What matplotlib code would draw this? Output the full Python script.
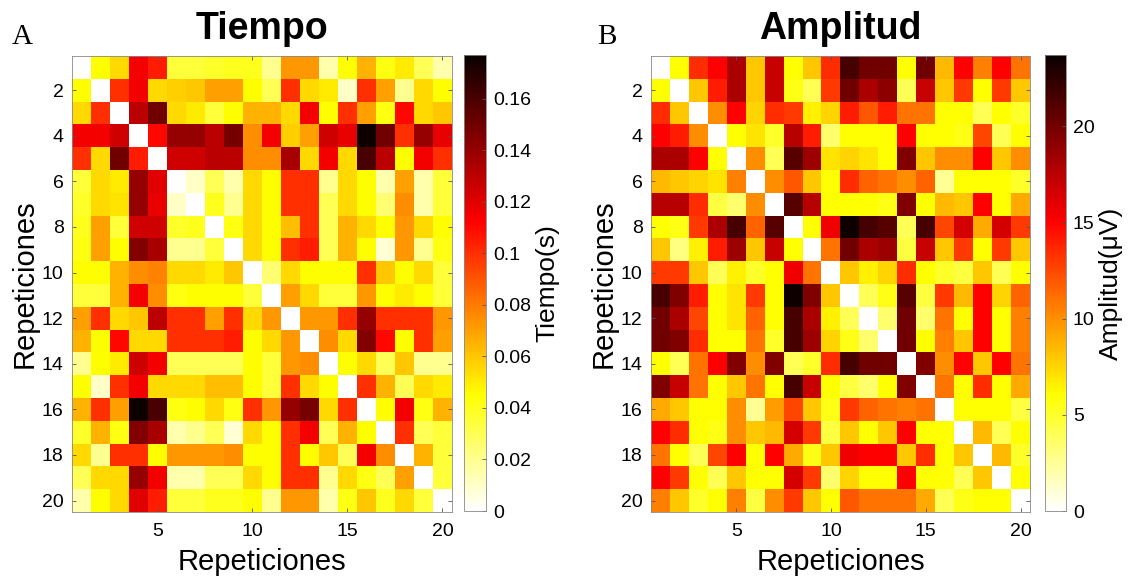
import numpy as np
import matplotlib
matplotlib.use("Agg")
import matplotlib.pyplot as plt

plt.rcParams['font.family'] = ['Liberation Sans', 'DejaVu Sans']

tiempo_ms = np.array([
    [0, 45, 55, 115, 105, 35, 35, 38, 40, 40, 20, 72, 72, 15, 45, 65, 42, 50, 30, 15],
    [45, 0, 100, 115, 55, 58, 60, 70, 70, 45, 30, 100, 55, 50, 10, 100, 70, 20, 55, 45],
    [55, 100, 0, 130, 150, 55, 50, 35, 45, 65, 65, 55, 115, 45, 100, 70, 42, 110, 55, 60],
    [115, 115, 125, 0, 110, 140, 140, 130, 148, 75, 115, 58, 70, 125, 118, 175, 150, 100, 140, 118],
    [100, 55, 150, 105, 0, 125, 125, 130, 130, 75, 75, 135, 55, 115, 55, 160, 130, 45, 115, 100],
    [35, 55, 50, 140, 120, 0, 10, 30, 15, 55, 45, 100, 100, 20, 55, 45, 15, 70, 15, 35],
    [38, 55, 52, 140, 118, 10, 0, 40, 20, 55, 45, 100, 100, 30, 55, 45, 25, 75, 15, 35],
    [40, 70, 35, 125, 125, 38, 40, 0, 42, 55, 45, 62, 100, 30, 65, 55, 45, 72, 55, 45],
    [42, 70, 45, 145, 135, 20, 20, 35, 0, 55, 45, 100, 105, 30, 65, 45, 8, 72, 20, 42],
    [45, 45, 65, 75, 78, 55, 55, 50, 60, 0, 25, 55, 45, 45, 45, 100, 60, 45, 55, 35],
    [35, 35, 65, 115, 75, 42, 45, 45, 45, 35, 0, 70, 55, 35, 35, 72, 45, 50, 45, 35],
    [70, 100, 55, 60, 130, 100, 100, 70, 100, 55, 72, 0, 72, 72, 100, 140, 100, 100, 100, 72],
    [65, 45, 110, 55, 55, 100, 100, 100, 105, 45, 55, 72, 0, 75, 55, 145, 110, 45, 100, 70],
    [20, 45, 50, 125, 115, 30, 30, 30, 30, 45, 35, 72, 75, 0, 45, 55, 30, 60, 20, 20],
    [45, 10, 100, 115, 55, 55, 55, 62, 62, 45, 35, 100, 55, 45, 0, 100, 65, 30, 55, 50],
    [65, 100, 70, 175, 160, 42, 45, 55, 42, 100, 72, 140, 148, 55, 100, 0, 45, 115, 42, 65],
    [38, 65, 42, 145, 135, 15, 20, 30, 8, 55, 45, 100, 115, 30, 65, 45, 0, 100, 30, 35],
    [55, 20, 100, 100, 45, 72, 72, 72, 75, 45, 45, 100, 45, 60, 30, 115, 75, 0, 65, 35],
    [30, 55, 55, 140, 115, 15, 15, 30, 30, 55, 45, 100, 100, 20, 55, 42, 30, 70, 0, 35],
    [15, 45, 55, 120, 105, 35, 35, 40, 40, 45, 20, 72, 72, 15, 42, 60, 40, 55, 35, 0],
])

# diferencia de amplitud entre repeticiones, en uV
amplitud_uv = np.array([
    [0, 6, 13.5, 15, 18, 8, 17, 6, 8, 13.5, 21.5, 20, 20, 6, 20, 8.5, 15, 10.5, 15, 11],
    [6, 0, 8, 14, 18, 8, 17, 5.5, 4, 13, 20, 18, 19, 4, 17, 8, 13, 6, 13, 8],
    [13.5, 8, 0, 10, 15, 7.5, 13.5, 13, 6.5, 7.5, 14, 12, 14, 11, 11, 6, 6, 4, 6, 5],
    [15, 14, 10, 0, 6, 7, 5, 17.5, 14, 3.5, 6, 6, 6, 15, 6, 6, 5.5, 12.5, 4, 6],
    [18, 18, 15, 6, 0, 10, 4, 21, 18.5, 7, 7.5, 7, 6, 19.5, 8, 10, 10, 15, 8, 10],
    [8.5, 8, 7.5, 7, 10.5, 0, 10, 12, 8, 6, 13.5, 11.5, 11, 10, 11.5, 2.5, 6, 6, 6, 5],
    [17.5, 17.5, 13.5, 4.5, 3.5, 10, 0, 21, 17.5, 6, 6, 6, 5.5, 19.5, 6, 8.5, 8, 15, 6, 9],
    [6, 5.5, 13, 18, 21.5, 11.5, 21, 0, 6, 15.5, 23.5, 21.5, 21, 4, 21.5, 12.5, 16.5, 9, 16.5, 13],
    [8, 3, 6.5, 14, 18.5, 8, 17, 6, 0, 11, 20, 18, 18.5, 4.5, 17, 8, 13, 6, 13, 8],
    [13, 13, 8, 4, 6.5, 5, 6, 15.5, 11, 0, 8, 6.5, 7.5, 13.5, 6, 5, 4.5, 8, 4, 6],
    [21.5, 19.5, 14, 6, 7, 13, 6, 23.5, 19.5, 8, 0, 4, 5.5, 21, 4.5, 13, 8.5, 15, 7.5, 11.5],
    [20, 18, 12.5, 6, 7, 11.5, 6, 21.5, 18, 6.5, 4, 0, 3.5, 20, 3.5, 11, 6, 15, 6, 10.5],
    [20, 19.5, 13.5, 6, 6, 11, 5, 21.5, 18.5, 7.5, 5.5, 3.5, 0, 20, 6, 10.5, 8, 15, 6, 10.5],
    [6, 4, 11, 15, 19.5, 10, 19.5, 4, 5, 13.5, 21.5, 20, 20, 0, 19.5, 10, 15, 8, 15, 11],
    [19.5, 17, 11, 6, 8, 11, 6, 21.5, 17, 6, 4.5, 3.5, 6, 19.5, 0, 11, 6, 13.5, 6, 9],
    [9, 8, 6, 6, 10, 2.5, 9.5, 12.5, 8, 5.5, 13, 11.5, 11, 10.5, 11, 0, 6, 6, 6, 4.5],
    [15, 13.5, 6, 5.5, 10, 8, 8.5, 16.5, 13, 4.5, 8, 6, 8, 15, 6, 6, 0, 8.5, 4, 6],
    [11, 6, 4, 12.5, 15, 6, 15, 9, 5.5, 8, 15.5, 15, 15, 8, 13.5, 6, 8, 0, 8.5, 5],
    [15, 13, 6, 4, 8, 6, 6, 16.5, 13, 3.5, 7.5, 6, 6, 15, 6, 6, 4, 8, 0, 6],
    [10.5, 8, 5, 6, 10.5, 4.5, 10, 13, 8, 6, 12, 11, 11, 11, 9, 4, 5.5, 6, 6, 0],
])

tiempo = tiempo_ms / 1000.0
n = tiempo.shape[0]

fig = plt.figure(figsize=(11.31, 5.8), dpi=100)

# posiciones en fracciones de la figura
ax1 = fig.add_axes([72/1131, 68/580, 380/1131, 456/580])
cax1 = fig.add_axes([464/1131, 69/580, 22/1131, 456/580])
ax2 = fig.add_axes([651/1131, 68/580, 379/1131, 456/580])
cax2 = fig.add_axes([1045/1131, 69/580, 21/1131, 456/580])

paneles = [
    (ax1, cax1, tiempo, 0.177, "Tiempo", "Tiempo(s)", "A", 12, np.arange(0, 0.17, 0.02)),
    (ax2, cax2, amplitud_uv, 23.7, "Amplitud", "Amplitud(\u03bcV)", "B", 597, np.arange(0, 21, 5)),
]

for ax, cax, datos, vmax, titulo, cblabel, letra, xletra, cbticks in paneles:
    im = ax.imshow(datos, cmap='hot_r', vmin=0, vmax=vmax, aspect='auto',
                   interpolation='nearest', extent=[0.5, n + 0.5, n + 0.5, 0.5])
    ax.set_xticks([5, 10, 15, 20])
    ax.set_yticks(np.arange(2, 21, 2))
    ax.tick_params(direction='in', length=3, width=0.6, color='#555555',
                   labelsize=14, top=True, right=True)
    ax.tick_params(axis='x', pad=8)
    ax.tick_params(axis='y', pad=6)
    for s in ax.spines.values():
        s.set_color('#888888')
        s.set_linewidth(0.6)
    ax.set_xlabel("Repeticiones", fontsize=21, labelpad=6)
    ax.set_ylabel("Repeticiones", fontsize=21, labelpad=2)
    ax.set_title(titulo, fontsize=27, fontweight='bold', pad=12)
    fig.text(xletra/1131, 1 - 37/580, letra, fontsize=21,
             family=['Liberation Serif', 'DejaVu Serif'], ha='left', va='center')

    cb = fig.colorbar(im, cax=cax)
    cb.set_ticks(cbticks)
    cb.set_ticklabels(["%g" % t for t in cbticks])
    cb.ax.tick_params(direction='in', length=3, width=0.6, color='#555555',
                      labelsize=14, pad=5)
    cb.outline.set_edgecolor('#888888')
    cb.outline.set_linewidth(0.6)
    cb.set_label(cblabel, fontsize=19, labelpad=3)

fig.savefig("out.png", dpi=100)
